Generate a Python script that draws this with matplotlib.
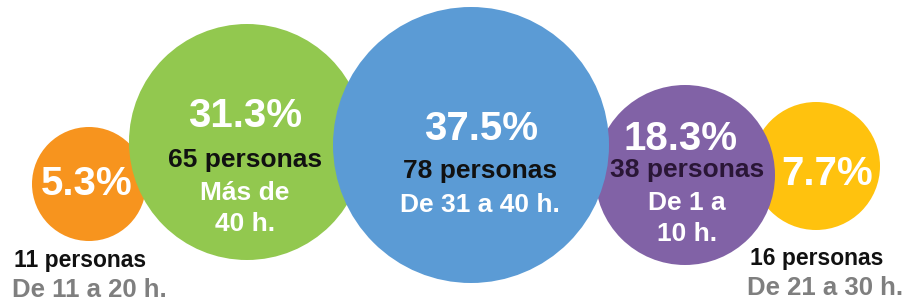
import matplotlib.pyplot as plt
from matplotlib.patches import Circle

# Datos
porcentajes = [5.3, 31.3, 37.5, 18.3, 7.7]
personas = [11, 65, 78, 38, 16]
rangos = ["De 11 a 20 h.", "Más de\n40 h.", "De 31 a 40 h.", "De 1 a\n10 h.", "De 21 a 30 h."]
colores = ["#F7941E", "#92C84F", "#5B9BD5", "#8162A6", "#FFC20E"]

# Disposición (en píxeles de la imagen)
cx = [89, 247, 471, 685, 816]
cy = [184, 142, 145, 175, 166]
radios = [57, 118, 138, 90, 64]
capas = [1, 2, 3, 2, 1]
dentro = [False, True, True, True, False]  # texto dentro del círculo o debajo

plt.rcParams["font.family"] = ["Liberation Sans", "DejaVu Sans"]
plt.rcParams["font.weight"] = "bold"

fig = plt.figure(figsize=(9.08, 3.04), dpi=100)
ax = fig.add_axes([0, 0, 1, 1])
ax.set_xlim(0, 908)
ax.set_ylim(304, 0)
ax.axis("off")

for i in range(len(porcentajes)):
    ax.add_patch(Circle((cx[i], cy[i]), radios[i], color=colores[i], zorder=capas[i], lw=0))

# Textos: porcentaje, personas y rango (líneas base)
txt_pct = [(87, 195), (245, 127), (481, 140), (681, 150), (827, 185)]
txt_per = [(80, 267), (245, 167), (480, 178), (687, 177), (817, 265)]
txt_rng = [(89, 297), (245, 200), (480, 212), (687, 210), (825, 295)]
interlinea = 31

for i in range(len(porcentajes)):
    ax.text(*txt_pct[i], f"{porcentajes[i]}%", color="white", fontsize=29,
            ha="center", va="baseline", zorder=10)
    col_per = "#2A1636" if i == 3 else "#111111"
    ax.text(*txt_per[i], f"{personas[i]} personas", color=col_per,
            fontsize=19 if dentro[i] else 16.5, ha="center", va="baseline", zorder=10)
    x, y = txt_rng[i]
    for j, linea in enumerate(rangos[i].split("\n")):
        if dentro[i]:
            ax.text(x, y + j * interlinea, linea, color="white", fontsize=19,
                    ha="center", va="baseline", zorder=10)
        else:
            ax.text(x, y, linea, color="#7F7F7F", fontsize=18.5,
                    ha="center", va="baseline", zorder=10)

fig.savefig("out.png", dpi=100, facecolor="white")
